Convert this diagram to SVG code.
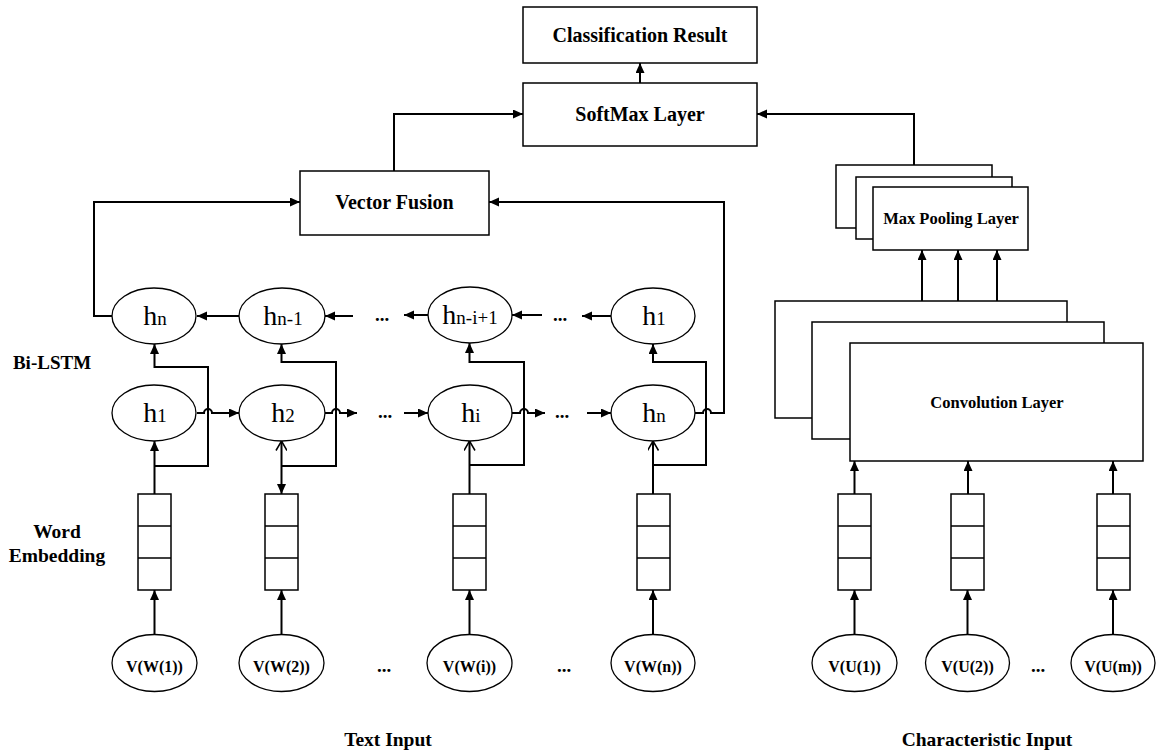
<svg xmlns="http://www.w3.org/2000/svg" width="1156" height="753" viewBox="0 0 1156 753">
<style>
.box{fill:#fff;stroke:#000;stroke-width:1.5}
.ell{fill:#fff;stroke:#000;stroke-width:1.3}
.c{fill:none;stroke:#000;stroke-width:2}
.t{font-family:"Liberation Serif","Times New Roman",serif;font-weight:bold;fill:#000;text-anchor:middle}
.big{font-size:20px}
.mid{font-size:16.5px}
.v{font-size:16px}
.h{font-family:"Liberation Serif","Times New Roman",serif;fill:#000;text-anchor:middle;font-size:28px}
.s{font-size:19px}
.dots{font-family:"Liberation Serif",serif;font-weight:bold;font-size:19px;fill:#000;text-anchor:middle}
</style>
<defs>
<marker id="a" markerUnits="userSpaceOnUse" markerWidth="11" markerHeight="10" refX="10" refY="4.5" orient="auto"><path d="M0,0 L10,4.5 L0,9 z" fill="#000"/></marker>
<marker id="o" markerUnits="userSpaceOnUse" markerWidth="11" markerHeight="12" refX="9.5" refY="5.5" orient="auto"><path d="M0,0 L9.5,5.5 L0,11" fill="none" stroke="#000" stroke-width="1.5"/></marker>
<marker id="os" markerUnits="userSpaceOnUse" markerWidth="11" markerHeight="12" refX="0.5" refY="5.5" orient="auto"><path d="M10,0 L0.5,5.5 L10,11" fill="none" stroke="#000" stroke-width="1.5"/></marker>
</defs>

<g id="connectors">
<path class="c" d="M640,83 V63" marker-end="url(#a)"/>
<path class="c" d="M394,171 V114 H523" marker-end="url(#a)"/>
<path class="c" d="M914,165 V114 H757" marker-end="url(#a)"/>
<path class="c" d="M112,316 H94 V202 H300" marker-end="url(#a)"/>
<path class="c" d="M695,413 H703 A4,4 0 0 1 711,413 H724 V202 H489" marker-end="url(#a)"/>
<path class="c" d="M239,316 H197" marker-end="url(#a)"/>
<path class="c" d="M353,316 H325" marker-end="url(#a)"/>
<path class="c" d="M428,315 H404" marker-end="url(#a)"/>
<path class="c" d="M542,315 H512" marker-end="url(#a)"/>
<path class="c" d="M611,316 H582" marker-end="url(#a)"/>
<path class="c" d="M197,413 H204 A4,4 0 0 1 212,413 H239" marker-end="url(#a)"/>
<path class="c" d="M325,413 H332 A4,4 0 0 1 340,413 H357" marker-end="url(#a)"/>
<path class="c" d="M404,413 H428" marker-end="url(#a)"/>
<path class="c" d="M512,413 H520 A4,4 0 0 1 528,413 H545" marker-end="url(#a)"/>
<path class="c" d="M587,413 H611" marker-end="url(#a)"/>
<path class="c" d="M154.5,494 V441" marker-end="url(#a)"/>
<path class="c" d="M154.5,466 H208 V367 H154.5 V344" marker-end="url(#a)"/>
<path class="c" d="M281.5,441 V494" marker-start="url(#os)" marker-end="url(#a)"/>
<path class="c" d="M281.5,466 H336 V362 H281.5 V344" marker-end="url(#a)"/>
<path class="c" d="M469.5,494 V441" marker-end="url(#o)"/>
<path class="c" d="M469.5,465 H524 V362 H469.5 V343" marker-end="url(#a)"/>
<path class="c" d="M653,494 V441" marker-end="url(#o)"/>
<path class="c" d="M653,465 H706 V362 H653 V344" marker-end="url(#a)"/>
<path class="c" d="M154.5,635 V590" marker-end="url(#a)"/>
<path class="c" d="M281.5,635 V590" marker-end="url(#a)"/>
<path class="c" d="M469.5,635 V590" marker-end="url(#a)"/>
<path class="c" d="M653,635 V590" marker-end="url(#a)"/>
<path class="c" d="M854.5,635 V590" marker-end="url(#a)"/>
<path class="c" d="M967.5,635 V590" marker-end="url(#a)"/>
<path class="c" d="M1113,635 V590" marker-end="url(#a)"/>
<path class="c" d="M854.5,494 V461" marker-end="url(#a)"/>
<path class="c" d="M968,494 V461" marker-end="url(#a)"/>
<path class="c" d="M1113,494 V461" marker-end="url(#a)"/>
<path class="c" d="M922,301 V250" marker-end="url(#a)"/>
<path class="c" d="M958,322 V250" marker-end="url(#a)"/>
<path class="c" d="M997,343 V250" marker-end="url(#a)"/>
</g>

<g id="classification"><rect class="box" x="523" y="7" width="234" height="56"/><text class="t big" x="640" y="42">Classification Result</text></g>
<g id="softmax"><rect class="box" x="523" y="83" width="234" height="63"/><text class="t big" x="640" y="121">SoftMax Layer</text></g>
<g id="fusion"><rect class="box" x="300" y="171" width="189" height="64"/><text class="t big" x="394.5" y="209">Vector Fusion</text></g>

<g id="maxpool">
<rect class="box" x="836" y="165" width="156" height="63"/>
<rect class="box" x="856" y="177" width="156" height="62"/>
<rect class="box" x="873" y="187" width="155" height="63"/>
<text class="t mid" x="951" y="224">Max Pooling Layer</text>
</g>
<g id="conv">
<rect class="box" x="775" y="301" width="292" height="117"/>
<rect class="box" x="812" y="322" width="292" height="117"/>
<rect class="box" x="850" y="343" width="293" height="118"/>
<text class="t mid" x="997" y="408">Convolution Layer</text>
</g>

<g id="hb_n"><ellipse class="ell" cx="154" cy="316" rx="42" ry="28"/><text class="h" x="155" y="325">h<tspan class="s">n</tspan></text></g>
<g id="hb_n1"><ellipse class="ell" cx="282" cy="316" rx="43" ry="28"/><text class="h" x="283" y="325">h<tspan class="s">n-1</tspan></text></g>
<g id="hb_ni1"><ellipse class="ell" cx="470" cy="315" rx="42" ry="28"/><text class="h" x="470" y="324">h<tspan class="s">n-i+1</tspan></text></g>
<g id="hb_1"><ellipse class="ell" cx="653" cy="316" rx="42" ry="28"/><text class="h" x="654" y="325">h<tspan class="s">1</tspan></text></g>

<g id="hf_1"><ellipse class="ell" cx="154" cy="413" rx="42" ry="28"/><text class="h" x="155" y="422">h<tspan class="s">1</tspan></text></g>
<g id="hf_2"><ellipse class="ell" cx="282" cy="413" rx="43" ry="28"/><text class="h" x="283" y="422">h<tspan class="s">2</tspan></text></g>
<g id="hf_i"><ellipse class="ell" cx="470" cy="413" rx="42" ry="28"/><text class="h" x="471" y="422">h<tspan class="s">i</tspan></text></g>
<g id="hf_n"><ellipse class="ell" cx="653" cy="413" rx="42" ry="28"/><text class="h" x="654" y="422">h<tspan class="s">n</tspan></text></g>

<g id="dots">
<text class="dots" x="382" y="321">...</text>
<text class="dots" x="560" y="321">...</text>
<text class="dots" x="385" y="418">...</text>
<text class="dots" x="562" y="418">...</text>
<text class="dots" x="384" y="672">...</text>
<text class="dots" x="564" y="672">...</text>
<text class="dots" x="1038" y="672">...</text>
</g>

<g id="emb_w1"><rect class="box" x="138" y="494" width="33" height="96"/><path class="box" d="M138,526 H171 M138,558 H171"/></g>
<g id="emb_w2"><rect class="box" x="265" y="494" width="33" height="96"/><path class="box" d="M265,526 H298 M265,558 H298"/></g>
<g id="emb_wi"><rect class="box" x="453" y="494" width="33" height="96"/><path class="box" d="M453,526 H486 M453,558 H486"/></g>
<g id="emb_wn"><rect class="box" x="637" y="494" width="33" height="96"/><path class="box" d="M637,526 H670 M637,558 H670"/></g>
<g id="emb_u1"><rect class="box" x="838" y="494" width="33" height="96"/><path class="box" d="M838,526 H871 M838,558 H871"/></g>
<g id="emb_u2"><rect class="box" x="951" y="494" width="33" height="96"/><path class="box" d="M951,526 H984 M951,558 H984"/></g>
<g id="emb_um"><rect class="box" x="1097" y="494" width="33" height="96"/><path class="box" d="M1097,526 H1130 M1097,558 H1130"/></g>

<g id="vw1"><ellipse class="ell" cx="154.5" cy="663" rx="42.5" ry="28.5"/><text class="t v" x="154.5" y="672">V(W(1))</text></g>
<g id="vw2"><ellipse class="ell" cx="281.5" cy="663" rx="42.5" ry="28.5"/><text class="t v" x="281.5" y="672">V(W(2))</text></g>
<g id="vwi"><ellipse class="ell" cx="469.5" cy="663" rx="42.5" ry="28.5"/><text class="t v" x="469.5" y="672">V(W(i))</text></g>
<g id="vwn"><ellipse class="ell" cx="653" cy="663" rx="42" ry="28.5"/><text class="t v" x="653" y="672">V(W(n))</text></g>
<g id="vu1"><ellipse class="ell" cx="854.5" cy="663" rx="42.5" ry="28.5"/><text class="t v" x="854.5" y="672">V(U(1))</text></g>
<g id="vu2"><ellipse class="ell" cx="967.5" cy="663" rx="42" ry="28.5"/><text class="t v" x="967.5" y="672">V(U(2))</text></g>
<g id="vum"><ellipse class="ell" cx="1113" cy="663" rx="42" ry="28.5"/><text class="t v" x="1113" y="672">V(U(m))</text></g>

<g id="labels">
<text class="t" style="font-size:19px" x="52" y="369">Bi-LSTM</text>
<text class="t" style="font-size:19.5px" x="57" y="538">Word</text>
<text class="t" style="font-size:19.5px" x="57" y="562">Embedding</text>
<text class="t" style="font-size:19.5px" x="388" y="746">Text Input</text>
<text class="t" style="font-size:19.5px" x="987" y="746">Characteristic Input</text>
</g>
</svg>
